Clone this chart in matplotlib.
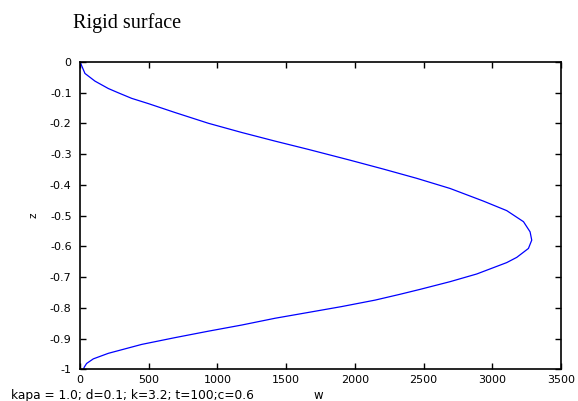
import numpy as np
import matplotlib.pyplot as plt

# velocity profile
w = [0, 36, 109, 206, 279, 376, 497, 691, 934, 1177, 1419, 1662, 1965, 2208,
     2450, 2693, 2935, 3105, 3227, 3275, 3287, 3263, 3178, 3105, 2887, 2693,
     2475, 2329, 2147, 1904, 1662, 1419, 1177, 934, 691, 449, 206, 97, 48, 31, 25]
z = [0, -0.038, -0.063, -0.087, -0.101, -0.119, -0.136, -0.165, -0.200, -0.230,
     -0.258, -0.285, -0.320, -0.349, -0.379, -0.412, -0.453, -0.484, -0.520,
     -0.553, -0.580, -0.607, -0.636, -0.653, -0.690, -0.715, -0.740, -0.756,
     -0.775, -0.796, -0.815, -0.834, -0.856, -0.876, -0.897, -0.919, -0.948,
     -0.966, -0.981, -0.993, -1.0]

xticks = [0, 500, 1000, 1500, 2000, 2500, 3000, 3500]
yticks = [0, -0.1, -0.2, -0.3, -0.4, -0.5, -0.6, -0.7, -0.8, -0.9, -1]
ylabels = ['0', '-0.1', '-0.2', '-0.3', '-0.4', '-0.5', '-0.6', '-0.7', '-0.8', '-0.9', '-1']

plt.rcParams['font.family'] = ['DejaVu Sans']

fig = plt.figure(figsize=(5.78, 4.01), dpi=100)
ax = fig.add_axes([0.1384, 0.079, 0.8322, 0.767])

ax.plot(w, z, color='#0000ff', linewidth=0.9)

ax.set_xlim(0, 3500)
ax.set_ylim(-1, 0)
ax.set_xticks(xticks)
ax.set_yticks(yticks)
ax.set_yticklabels(ylabels)
ax.tick_params(direction='in', top=True, right=True, labelsize=8, length=4,
               width=1)
ax.tick_params(axis='x', pad=4)
ax.tick_params(axis='y', pad=6)
for s in ax.spines.values():
    s.set_linewidth(1.2)

ax.set_ylabel('z', fontsize=7.5, labelpad=8)

fig.text(73 / 578, 0.929, 'Rigid surface', fontsize=14.5, family='Liberation Serif')
fig.text(11 / 578, 0.006, 'kapa = 1.0; d=0.1; k=3.2; t=100;c=0.6', fontsize=8.8)
fig.text(314 / 578, 0.006, 'w', fontsize=8.5)

fig.savefig('out.png', dpi=100)
